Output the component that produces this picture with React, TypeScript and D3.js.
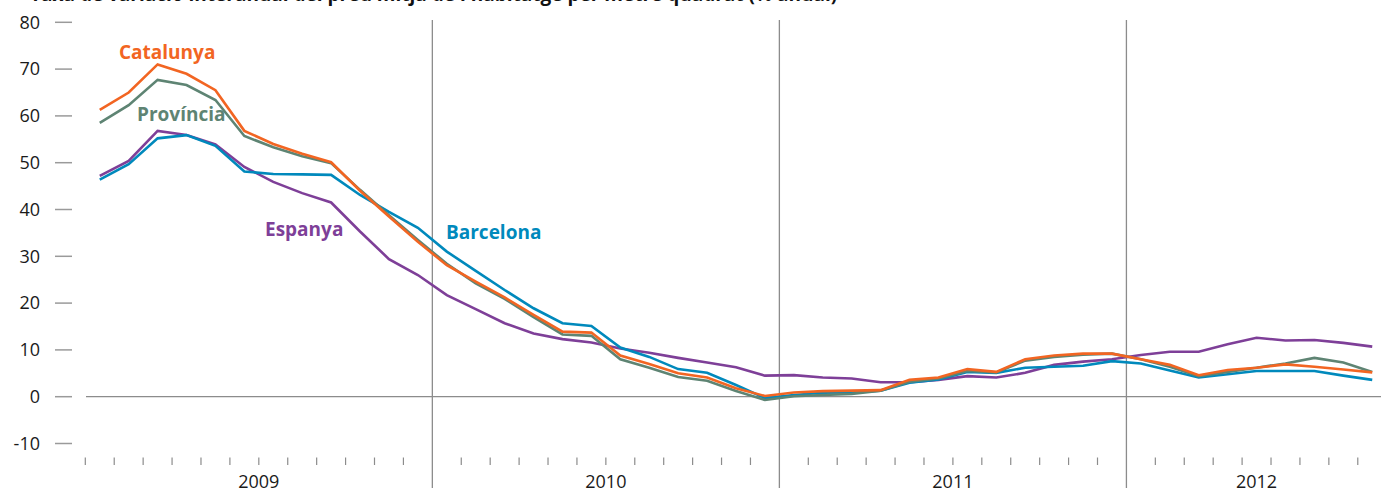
import React from "react";
import * as d3 from "d3";

// Year-on-year change (%), monthly, Jan 2009 - Sep 2012
const years = ["2009", "2010", "2011", "2012"];
const monthsPerYear = [12, 12, 12, 9];
const yTicks = [-10, 0, 10, 20, 30, 40, 50, 60, 70, 80];

const catalunya = [
  61.3, 65.0, 71.0, 69.0, 65.5, 56.8, 54.0, 51.9, 50.1, 44.0, 38.5, 33.1,
  28.1, 24.6, 21.2, 17.5, 13.9, 13.7, 8.8, 7.0, 5.0, 4.1, 1.8, 0.15,
  0.9, 1.2, 1.3, 1.4, 3.6, 4.1, 5.9, 5.3, 8.0, 8.8, 9.2, 9.2,
  8.0, 6.8, 4.6, 5.7, 6.2, 6.9, 6.4, 5.8, 5.2,
];
const provincia = [
  58.5, 62.3, 67.7, 66.6, 63.4, 55.7, 53.3, 51.4, 49.9, 44.2, 38.8, 33.5,
  28.4, 24.2, 20.9, 17.0, 13.3, 13.0, 8.0, 6.2, 4.2, 3.4, 1.2, -0.7,
  0.1, 0.35, 0.6, 1.3, 3.2, 3.9, 5.5, 5.2, 7.7, 8.5, 9.0, 9.2,
  8.0, 6.4, 4.4, 5.3, 6.2, 7.1, 8.3, 7.3, 5.3,
];
const espanya = [
  47.2, 50.4, 56.8, 55.9, 53.9, 49.1, 45.9, 43.5, 41.5, 35.3, 29.4, 26.0,
  21.7, 18.7, 15.7, 13.5, 12.3, 11.6, 10.3, 9.4, 8.3, 7.3, 6.3, 4.5,
  4.6, 4.1, 3.9, 3.1, 3.1, 3.6, 4.4, 4.1, 5.1, 6.8, 7.5, 8.0,
  8.9, 9.6, 9.6, 11.2, 12.6, 12.0, 12.1, 11.5, 10.7,
];
const barcelona = [
  46.4, 49.7, 55.2, 55.9, 53.6, 48.1, 47.6, 47.5, 47.4, 43.1, 39.5, 36.1,
  31.0, 26.9, 22.8, 18.9, 15.7, 15.1, 10.5, 8.5, 5.9, 5.1, 2.5, -0.3,
  0.35, 0.85, 0.9, 1.3, 3.0, 3.7, 5.3, 5.1, 6.2, 6.4, 6.6, 7.6,
  7.1, 5.6, 4.1, 4.8, 5.5, 5.5, 5.5, 4.5, 3.6,
];

const series = [
  { name: "Espanya", values: espanya, color: "#7e3f98", lx: 265, ly: 236 },
  { name: "Barcelona", values: barcelona, color: "#0089bc", lx: 446, ly: 239 },
  { name: "Província", values: provincia, color: "#5e8473", lx: 137, ly: 121 },
  { name: "Catalunya", values: catalunya, color: "#f26522", lx: 119, ly: 58.6 },
];

export default function App() {
  const width = 1381;
  const height = 492;
  const nMonths = d3.sum(monthsPerYear);

  const x = d3.scaleLinear().domain([0, nMonths]).range([85.3, 1386.7]);
  const y = d3.scaleLinear().domain([-10, 80]).range([443.5, 22.3]);

  const line = d3
    .line<number>()
    .x((_, i) => x(i + 0.5))
    .y((d) => y(d));

  // year boundaries (month index where each year starts)
  const starts: number[] = Array.from(d3.cumsum([0, ...monthsPerYear]));
  const separators = starts.slice(1, years.length);
  const monthTicks = d3.range(0, nMonths).filter((m) => !separators.includes(m));

  const font = "'Open Sans', sans-serif";

  return (
    <svg
      width={width}
      height={height}
      style={{ position: "absolute", left: 0, top: 0, background: "#fff" }}
      fontFamily={font}
    >
      {/* title, mostly cropped off the top as in the source */}
      <text x={30} y={1} fontSize={19} fontWeight="bold" fill="#111">
        Taxa de variació interanual del preu mitjà de l'habitatge per metre quadrat (% anual)
      </text>

      {/* y axis */}
      {yTicks.map((t) => (
        <g key={t}>
          <line x1={55} x2={72} y1={y(t)} y2={y(t)} stroke="#9a9a9a" strokeWidth={1.5} />
          <text x={40} y={y(t)} dy="0.35em" textAnchor="end" fontSize={18} fill="#1a1a1a">
            {t}
          </text>
        </g>
      ))}

      {/* zero line */}
      <line x1={86} x2={width} y1={y(0)} y2={y(0)} stroke="#8c8c8c" strokeWidth={1.3} />

      {/* year separators */}
      {separators.map((m) => (
        <line key={m} x1={x(m)} x2={x(m)} y1={20} y2={488} stroke="#8c8c8c" strokeWidth={1.3} />
      ))}

      {/* month ticks */}
      {monthTicks.map((m) => (
        <line key={m} x1={x(m)} x2={x(m)} y1={457.5} y2={465} stroke="#8c8c8c" strokeWidth={1.2} />
      ))}

      {/* year labels */}
      {years.map((yr, i) => (
        <text
          key={yr}
          x={x((starts[i] + starts[i + 1]) / 2)}
          y={487.5}
          textAnchor="middle"
          fontSize={18}
          fill="#1a1a1a"
        >
          {yr}
        </text>
      ))}

      {/* lines */}
      {series.map((s) => (
        <path
          key={s.name}
          d={line(s.values) || ""}
          fill="none"
          stroke={s.color}
          strokeWidth={2.6}
          strokeLinejoin="miter"
        />
      ))}

      {/* labels */}
      {series.map((s) => (
        <text key={s.name} x={s.lx} y={s.ly} fontSize={19} fontWeight="bold" fill={s.color}>
          {s.name}
        </text>
      ))}
    </svg>
  );
}
